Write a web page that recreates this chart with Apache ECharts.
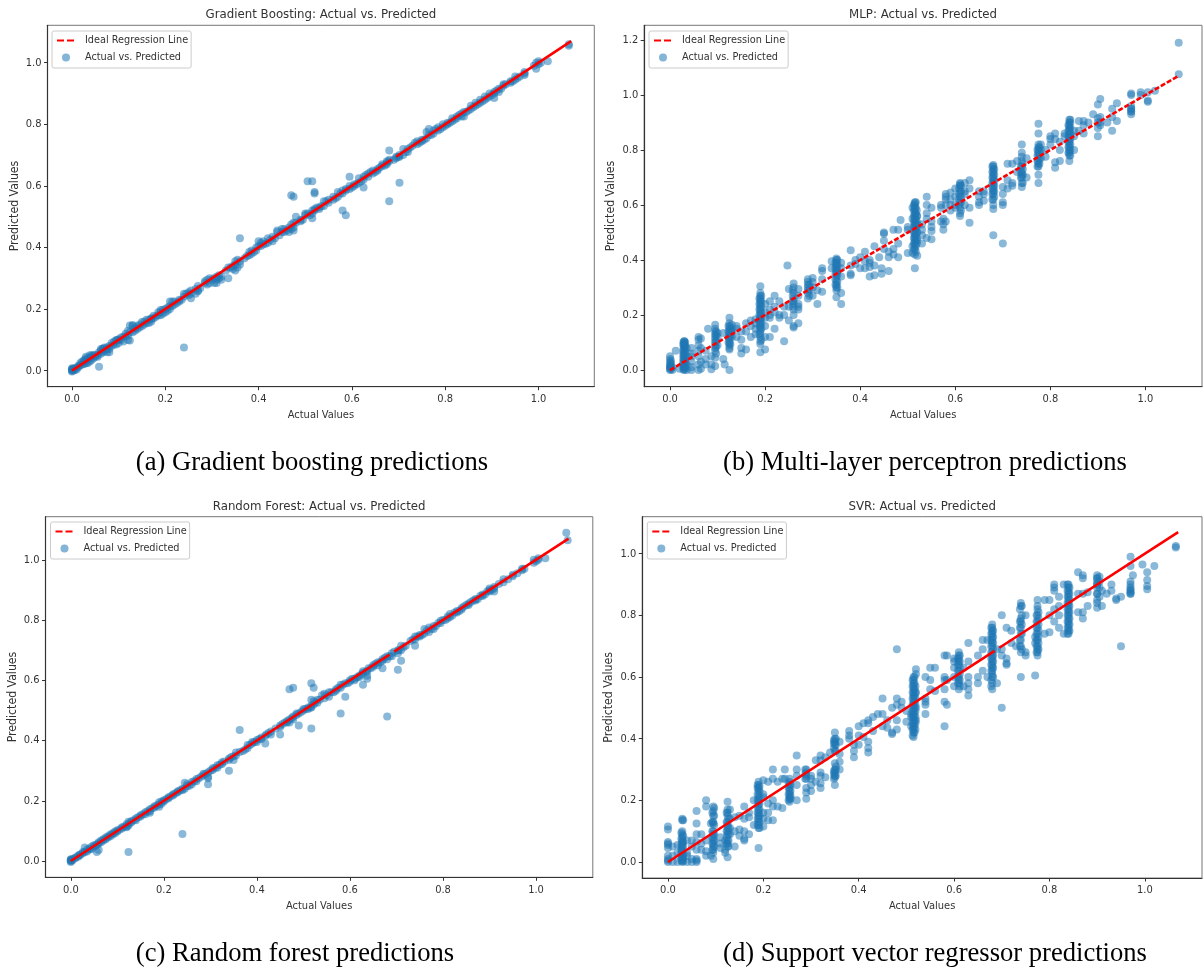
<!DOCTYPE html>
<html><head><meta charset="utf-8">
<style>html,body{margin:0;padding:0;background:#fff}#c{width:1203px;height:969px}</style>
<script src="https://cdn.jsdelivr.net/npm/echarts@6/dist/echarts.min.js"></script>
</head><body><div id="c"></div>
<script>
// each row: actual value, then the predicted values read at that actual value
const gbRows = [
[0,0,.003,.005,.008,-.003],[.003,.001,.006],[.006,.002,.008],[.018,.018,.025],[.022,.02,.03],[.026,.022,.03,.035],[.03,.024,.033,.045,.04],[.034,.025,.038],[.038,.03,.042,.05],[.042,.035,.045,.05],[.046,.05,.04],[.05,.052,.045],[.055,.045,.05],[.058,.013,.06],[.062,.055,.065,.07],[.066,.06,.07,.072],[.07,.065,.075],[.075,.06,.07,.075],[.08,.06,.07,.08],[.085,.08,.09],[.09,.085,.095],[.095,.085,.098,.1],[.1,.09,.1],[.11,.095,.11],[.115,.112,.12],[.12,.1,.115,.13],[.124,.098,.125,.147],[.13,.125,.145,.148],[.135,.13,.138],[.14,.135,.145],[.145,.14,.15],[.15,.145,.158],[.155,.16,.15],[.16,.165,.155],[.165,.155,.165],[.17,.16,.168,.17],[.175,.17,.178],[.185,.18,.19],[.19,.18,.19,.197],[.195,.185,.198],[.2,.19,.2],[.205,.195,.205],[.21,.2,.225,.21],[.215,.21,.225],[.22,.215,.225],[.23,.225,.23],[.24,.075,.25,.24],[.25,.245,.255],[.255,.235,.25,.26],[.265,.25,.265],[.27,.26,.275,.258],[.285,.285,.29],[.29,.28,.295],[.295,.285,.3],[.305,.285,.3],[.31,.285,.295,.305],[.315,.3,.31],[.32,.295,.305],[.335,.3,.335],[.345,.33,.34],[.35,.325,.345,.355],[.355,.335,.36],[.36,.345,.355,.43],[.38,.375,.385],[.385,.38,.39],[.395,.39,.4],[.4,.405,.42],[.405,.405,.415],[.41,.41,.42],[.42,.415,.43],[.43,.42,.435],[.44,.45,.455],[.45,.45,.46],[.455,.45,.46],[.465,.45,.465],[.47,.57,.46,.475],[.475,.565,.465,.48,.455],[.48,.5,.48],[.49,.485,.49],[.5,.51,.505],[.505,.615,.51],[.515,.615,.495,.51,.52],[.52,.58,.575,.52,.525],[.53,.525,.53],[.54,.535,.55],[.55,.545,.555],[.56,.555,.565],[.57,.565,.58],[.58,.52,.575,.585],[.587,.505,.585,.59],[.595,.59,.6,.63],[.605,.6,.605],[.615,.61,.625],[.625,.62,.63,.595],[.635,.63,.64],[.645,.64,.65],[.655,.655,.65],[.665,.665,.67],[.675,.67,.675,.68],[.68,.55,.715,.68,.685],[.695,.69,.695],[.702,.61,.695,.7],[.71,.7,.72],[.72,.71,.72],[.74,.735,.745],[.75,.745,.75],[.76,.755,.775],[.765,.765,.785],[.775,.77,.78],[.785,.78,.79],[.795,.79,.8],[.805,.8,.805],[.815,.81,.82],[.825,.82,.825],[.835,.825,.835],[.84,.825,.84],[.855,.85,.86],[.865,.86,.87],[.875,.87,.88],[.885,.88,.89],[.895,.89,.9],[.905,.885,.9,.905],[.915,.905,.915],[.925,.925,.93],[.94,.935,.94],[.95,.945,.955],[.97,.96,.965,.97],[.995,.98,1],[1,.995,1.005],[1.02,1.005],[1.065,1.055,1.06]
];
const gbExtra = [
[.01,.004,.01],[.014,.012,.016],[.1,.102],[.105,.1,.108],[.18,.175],[.225,.22],[.235,.23],[.245,.25],[.275,.268],[.3,.295],[.33,.325],[.34,.335],[.37,.365],[.375,.372],[.39,.385],[.415,.412],[.425,.425],[.435,.43],[.445,.44],[.46,.455],[.495,.49],[.51,.505],[.525,.53],[.535,.535],[.545,.55],[.565,.56],[.575,.575],[.6,.595],[.61,.605],[.62,.615],[.63,.635],[.64,.645],[.65,.645],[.66,.66],[.67,.665],[.69,.685],[.7,.695],[.715,.71],[.725,.725],[.73,.73],[.735,.74],[.745,.74],[.755,.75],[.77,.765],[.78,.785],[.79,.785],[.8,.795],[.81,.805],[.82,.815],[.83,.83],[.845,.84],[.85,.845],[.86,.855],[.87,.865],[.88,.875],[.89,.885],[.9,.895],[.91,.91],[.92,.915],[.93,.93],[.945,.94],[.955,.95],[.96,.955],[.99,.99],[1.005,1.0]
];
const mlpRows = [
[0,0,.005,.01,.015,.02,.03,.04,.05],[.005,0,.01],[.012,.07],[.02,.005],[.03,0,.005,.01,.015,.02,.03,.04,.05,.06,.07,.08,.085,.09,.095,.1,.105,.105],[.035,0,.02,.05,.08],[.045,0,.01,.03,.05,.06,.08],[.06,0,.02,.05,.07,.09,.11,.12],[.065,.08,.115,.03,.005],[.075,.04,.02,.07],[.08,.15],[.087,.003,.02,.05],[.095,.015,.045,.07,.08,.09,.1,.11,.12,.13,.14,.15,.165],[.1,.09,.12,.135],[.112,.135,.04],[.115,.02],[.125,0,.08,.075,.09,.1,.11,.12,.13,.14,.15,.16,.17,.19],[.13,.12,.14,.15,.165],[.14,.15,.12,.16],[.15,.06,.08,.11,.14],[.16,.075,.17,.14],[.17,.12,.18,.16],[.18,.13,.15,.17,.185],[.19,.065,.095,.105,.12,.135,.145,.155,.165,.175,.185,.19,.2,.21,.22,.23,.24,.25,.26,.27,.28,.305],[.2,.19,.21,.24,.16,.12,.075],[.21,.2,.22,.25,.12,.19],[.22,.21,.27,.15,.23],[.23,.2,.25,.19],[.24,.105,.2,.23],[.247,.38],[.25,.295,.18,.23],[.26,.155,.16,.2,.22,.24,.25,.26,.28,.3,.315],[.27,.17,.22,.24,.27,.295,.23],[.29,.26,.28,.29,.3,.31,.32,.33],[.3,.335,.3,.27,.32],[.31,.24,.29],[.32,.285,.33,.36,.37],[.34,.395,.37],[.35,.265,.29,.3,.31,.325,.34,.35,.36,.37,.38,.39,.4,.405],[.36,.24,.28,.34,.37,.39],[.38,.35,.345,.38,.435],[.39,.4,.385],[.4,.37,.41],[.41,.37,.43,.395],[.42,.34,.375,.39,.4],[.43,.345,.38,.45],[.44,.41],[.445,.35,.37],[.45,.44,.47,.495,.5],[.46,.36,.41,.43],[.47,.44,.42,.51],[.48,.41,.46,.51],[.485,.545],[.5,.51,.52,.425],[.51,.425,.59,.45,.55],[.515,.37,.42,.44,.455,.465,.475,.485,.495,.505,.515,.525,.535,.545,.555,.565,.575,.585,.595,.605,.61],[.52,.415,.47,.5,.53,.56],[.53,.49,.51,.53,.46],[.54,.48,.55,.6,.63,.57],[.55,.505,.54,.59,.52,.475],[.57,.54,.59,.6],[.575,.51,.53,.55],[.58,.6,.62,.63,.64,.54],[.59,.58,.6,.62,.645],[.6,.66,.6,.59,.63],[.61,.56,.57,.59,.61,.63,.65,.67,.675,.68],[.62,.6,.64,.68,.65],[.63,.535,.59,.66,.69],[.65,.6,.63,.65,.61],[.66,.65,.615,.64],[.68,.585,.6,.62,.64,.65,.66,.67,.68,.69,.7,.71,.72,.73,.74,.745,.49],[.7,.46,.64,.665,.61,.6],[.71,.66,.69,.75],[.72,.67,.75,.68],[.73,.72,.76],[.74,.665,.68,.7,.71,.72,.74,.76,.775,.82,.79],[.75,.77,.7],[.775,.68,.71,.74,.75,.76,.78,.79,.8,.81,.82,.86,.895],[.78,.77,.8,.82],[.79,.775,.8],[.8,.85,.84,.82],[.81,.735,.755,.86,.84],[.82,.76,.8,.83],[.83,.85,.86],[.84,.76,.78,.79,.8,.81,.82,.83,.84,.85,.86,.87,.88,.89,.9,.91],[.85,.8,.85,.87],[.86,.905,.87],[.87,.86,.89,.905],[.88,.9],[.89,.93],[.9,.85,.88,.9,.915,.965],[.905,.985,.9,.92,.89],[.92,.9],[.93,.87,.92,.95],[.94,.905,.97],[.97,.93,.94,.95,.96,1,1.005],[.99,1,1.01],[1.005,.975,.98,1.01],[1.02,1.015],[1.07,1.19,1.075]
];
const mlpExtra = [
[.002,.005,.015,.025,.035],[.028,.002,.012,.025,.035,.045,.055,.065,.075,.09,.1],[.032,.008,.018,.03,.042,.06,.072,.088,.1],[.097,.06,.085,.105,.125,.14],[.123,.1,.12,.14,.16],[.127,.095,.125,.145],[.188,.13,.16,.18,.2,.22,.24,.26],[.192,.11,.15,.17,.19,.21,.23,.25,.27],[.258,.23,.25,.27,.29],[.293,.27,.29,.31],[.348,.31,.33,.35,.37,.39],[.352,.3,.32,.345,.36,.38,.4],[.513,.44,.46,.48,.5,.52,.54,.56,.58,.6],[.517,.43,.45,.47,.49,.51,.53,.55,.57,.59,.61],[.519,.46,.48,.5,.52,.54,.56,.58],[.608,.6,.62,.64,.66],[.612,.58,.61,.63,.65,.67],[.678,.62,.64,.66,.68,.7,.72,.74],[.682,.63,.65,.67,.69,.71,.73],[.738,.7,.72,.74],[.742,.68,.71,.73,.75],[.773,.74,.76,.78,.8],[.777,.75,.77,.79,.81],[.838,.79,.81,.83,.85,.87,.89],[.842,.78,.8,.82,.84,.86,.88,.9,.91],[.97,.94,.95]
];
const rfRows = [
[0,0,.002,.004,-.003,.006],[.004,.003,.007],[.01,.01,.012],[.016,.014,.018],[.02,.02,.022],[.026,.026,.03],[.03,.03,.045],[.035,.032,.038],[.04,.038,.042],[.045,.04,.048],[.05,.048,.052],[.056,.052,.03],[.06,.058,.062,.037],[.065,.062,.068],[.07,.068,.072],[.075,.072,.078],[.08,.078,.082],[.085,.082,.088],[.09,.088,.092],[.095,.092,.098],[.1,.098,.102],[.11,.108,.112],[.12,.115,.122,.112],[.124,.03,.118,.13],[.13,.128,.132],[.14,.135,.142],[.15,.148,.152],[.16,.155,.162],[.17,.165,.172,.16],[.18,.178,.182],[.19,.18,.188,.195],[.195,.19,.198],[.2,.198,.202],[.21,.208,.212],[.22,.218,.222],[.23,.228,.232],[.24,.09,.235,.24],[.245,.24,.26],[.25,.255,.248],[.26,.255,.262],[.27,.265,.272],[.285,.285,.29],[.295,.255,.275,.295,.28],[.305,.302,.308],[.315,.31,.318],[.325,.322,.328],[.34,.3,.335,.34],[.35,.335,.348],[.355,.35,.36],[.363,.435,.362],[.38,.375,.385],[.39,.39,.395],[.4,.395,.402],[.41,.405,.41],[.418,.39,.415],[.43,.42,.43],[.45,.42,.445,.45],[.465,.46,.465],[.47,.57,.46,.47],[.478,.575,.47,.48],[.485,.485,.49],[.49,.45,.49],[.5,.5,.505],[.51,.505,.51],[.517,.59,.44,.51,.515,.535],[.522,.575,.52,.53],[.53,.525,.535],[.545,.54,.555],[.555,.545,.56],[.57,.565,.57],[.58,.49,.575,.585],[.59,.545,.59],[.6,.595,.6],[.61,.6,.605],[.62,.61,.615],[.628,.585,.625,.63],[.637,.605,.615,.63],[.65,.645,.65],[.66,.65,.66],[.67,.64,.665,.67],[.68,.48,.67,.68],[.69,.68,.69],[.703,.635,.69,.7],[.71,.665,.7,.715],[.74,.715,.735,.745],[.75,.745,.75],[.76,.755,.77],[.77,.76,.775],[.78,.77,.78],[.795,.79,.798],[.81,.805,.812],[.815,.81,.82],[.83,.825,.83],[.84,.835,.84],[.855,.85,.855],[.87,.865,.87],[.885,.88,.885],[.9,.895,.9,.905],[.91,.895,.905,.91],[.93,.925,.935],[.95,.945,.95],[.97,.965,.97],[.995,.99,1],[1.005,1,1.005],[1.02,1.005],[1.065,1.09],[1.068,1.065]
];
const rfExtra = [
[.055,.055],[.105,.105],[.115,.115],[.125,.125],[.135,.135],[.145,.145],[.155,.155],[.165,.165],[.175,.175],[.185,.185],[.205,.205],[.215,.215],[.225,.225],[.235,.235],[.255,.25],[.265,.265],[.275,.275],[.28,.28],[.29,.29],[.3,.3],[.31,.31],[.32,.32],[.33,.33],[.345,.345],[.37,.365],[.375,.37],[.385,.385],[.395,.395],[.405,.405],[.42,.42],[.425,.425],[.44,.44],[.455,.455],[.46,.46],[.475,.475],[.495,.495],[.505,.505],[.515,.51],[.525,.525],[.535,.535],[.54,.55],[.55,.55],[.56,.56],[.565,.56],[.575,.575],[.585,.585],[.595,.59],[.605,.605],[.615,.61],[.625,.62],[.635,.63],[.64,.64],[.645,.64],[.655,.655],[.665,.66],[.675,.675],[.685,.68],[.695,.695],[.705,.7],[.715,.71],[.72,.715],[.73,.73],[.735,.735],[.745,.745],[.755,.75],[.765,.765],[.775,.77],[.785,.78],[.79,.79],[.8,.8],[.805,.8],[.82,.815],[.825,.825],[.835,.83],[.845,.845],[.85,.85],[.86,.86],[.865,.865],[.875,.87],[.88,.88],[.89,.885],[.895,.895],[.905,.9],[.92,.92],[.94,.935],[.96,.955],[.975,.97],[1,.995]
];
const svrRows = [
[0,0,.005,.01,.02,.045,.055,.06,.065,.105,.115],[.01,0,.02,.05],[.02,0,.055,.03],[.03,0,.005,.01,.02,.03,.04,.05,.06,.065,.07,.08,.09,.1,.135,.14],[.04,0,.02,.07,.03],[.05,0,.01,.05,.07],[.06,0,.005,.01,.04,.065,.09,.125,.165],[.07,.04,.09,.06],[.08,.02,.035,.07,.18,.2],[.09,.02,.125],[.095,.01,.03,.04,.05,.06,.07,.08,.09,.1,.125,.13,.15,.165,.18],[.11,.045,.06,.08],[.12,.04,.03,.07],[.125,.015,.05,.06,.07,.09,.1,.11,.12,.13,.15,.16,.17,.195],[.13,.09,.11,.14,.17],[.14,.05,.145,.1],[.15,.105,.085,.15],[.16,.1,.075,.07,.14,.18],[.17,.09,.145,.16],[.18,.12,.2],[.19,.045,.11,.12,.13,.14,.15,.16,.17,.185,.195,.205,.215,.23,.24,.25,.26],[.2,.115,.14,.16,.21,.265,.22],[.21,.135,.19,.26,.16],[.22,.135,.2,.3,.27,.18],[.23,.18,.26],[.24,.175,.27],[.245,.3,.27],[.255,.195,.205,.21,.22,.23,.24,.25,.26,.27],[.27,.2,.25,.28,.3,.345],[.29,.205,.225,.24,.27,.28,.29,.3],[.3,.23,.25,.28,.27],[.31,.33,.26],[.32,.24,.255,.28,.29,.345,.33],[.33,.275,.34],[.34,.355],[.35,.25,.275,.28,.29,.3,.32,.36,.38,.39,.4,.42],[.36,.325,.35,.39,.3],[.38,.4,.41,.425],[.39,.34,.36,.38],[.4,.38,.44,.41],[.41,.45,.405],[.42,.355,.37,.39,.45,.46],[.43,.425,.47],[.44,.48],[.45,.44,.53,.48],[.46,.435,.46],[.47,.415,.42,.5],[.48,.46,.43,.53,.69,.51],[.49,.5,.52],[.5,.455,.49],[.51,.47,.48,.44],[.515,.405,.42,.43,.44,.45,.46,.47,.48,.49,.5,.51,.52,.53,.54,.55,.56,.57,.58,.59,.6],[.52,.625,.61,.5,.55,.46],[.54,.48,.52,.53,.6,.51],[.55,.56,.63,.59],[.56,.555,.63],[.58,.44,.56,.6,.52,.59,.67],[.585,.51,.67,.59],[.6,.57,.6,.63,.65,.66],[.61,.56,.58,.59,.6,.62,.64,.65,.66,.67,.68],[.62,.57,.63],[.63,.54,.56,.6,.65,.71,.58],[.65,.6,.58,.67],[.66,.69,.62,.72],[.67,.72,.6],[.68,.56,.58,.6,.61,.62,.63,.64,.65,.66,.67,.68,.7,.71,.72,.73,.74,.75,.76,.77],[.69,.58,.69],[.7,.5,.67,.69,.8],[.71,.645,.76,.64,.66],[.72,.75,.71],[.73,.7],[.74,.6,.68,.7,.72,.74,.76,.78,.79,.83,.84],[.75,.67,.8,.68],[.77,.605,.73,.71],[.775,.67,.68,.69,.7,.72,.74,.76,.78,.8,.82,.83,.85],[.79,.74,.85],[.8,.745,.8,.85],[.81,.78,.82,.88,.89,.9],[.82,.76,.8,.83,.86],[.83,.74,.9],[.84,.74,.75,.76,.77,.78,.79,.8,.81,.82,.83,.84,.85,.86,.87,.88,.89,.9],[.86,.81,.87,.94],[.87,.79,.81,.87,.92,.93],[.88,.83,.875],[.9,.825,.85,.87,.89,.9,.91,.92,.93],[.91,.83,.88],[.92,.87],[.93,.9,.88],[.94,.85,.855],[.95,.7,.86],[.97,.87,.88,.89,.9,.91,.96,.99],[.975,.93],[.995,.965],[1.005,.885,.895,.915,.94],[1.02,.96],[1.065,1.02,1.025]
];
const svrExtra = [
[.028,.005,.015,.025,.035,.045,.055,.075,.095],[.032,.002,.012,.022,.05,.065,.085,.135],[.093,.04,.06,.08,.1,.13,.16],[.097,.05,.07,.09,.12,.15,.175],[.123,.06,.08,.1,.13,.16],[.127,.05,.07,.09,.11,.14],[.188,.12,.14,.16,.18,.2,.22,.24,.25],[.192,.11,.13,.15,.17,.19,.21,.23,.245],[.253,.2,.22,.24,.255],[.257,.205,.215,.23,.25],[.288,.27,.285,.3],[.348,.27,.285,.295,.37,.385,.395],[.352,.28,.3,.31,.36,.38,.4],[.513,.41,.43,.45,.47,.49,.51,.53,.55,.57,.59],[.517,.42,.44,.46,.48,.5,.52,.54,.56,.58,.6],[.519,.43,.45,.47,.49,.51,.53,.55,.57],[.608,.58,.6,.62,.64,.66],[.612,.57,.59,.61,.63,.65,.67],[.678,.57,.59,.62,.64,.66,.68,.7,.72,.74,.76],[.682,.6,.63,.65,.67,.69,.71,.73,.75],[.738,.7,.72,.76,.78,.82],[.742,.69,.74,.77,.8,.83],[.773,.68,.7,.72,.74,.76,.78,.8],[.777,.69,.71,.73,.75,.77,.79,.81],[.838,.74,.76,.78,.8,.82,.84,.86,.88,.9],[.842,.75,.77,.79,.81,.83,.85,.87,.89],[.9,.84,.87,.9,.92],[.905,.86,.89,.91,.925],[.97,.87,.875,.885]
];
const xTickValues = [0,.2,.4,.6,.8,1];
const yTickValues = [0,.2,.4,.6,.8,1];
const yTickValuesMlp = [0,.2,.4,.6,.8,1,1.2];
const idealBroken = [[0,0],[.685,.685],[null,null],[.695,.695],[1.07,1.07]];
const idealFull = [[0,0],[1.07,1.07]];
const panelTitles = ['Gradient Boosting: Actual vs. Predicted','MLP: Actual vs. Predicted','Random Forest: Actual vs. Predicted','SVR: Actual vs. Predicted'];
const captions = ['(a) Gradient boosting predictions','(b) Multi-layer perceptron predictions','(c) Random forest predictions','(d) Support vector regressor predictions'];
const lineName = 'Ideal Regression Line', pointName = 'Actual vs. Predicted';

const FONT = '"DejaVu Sans Condensed","DejaVu Sans",sans-serif';
const INK = '#333';
const panels = [
 {rows:gbRows.concat(gbExtra), g:[47.5,25.3,546.8,361.4], x:[-.0525,1.1196], y:[-.052,1.1214], yt:yTickValues, line:idealBroken, dash:'solid', leg:[52,31], cap:[312,465]},
 {rows:mlpRows.concat(mlpExtra),g:[644.2,25.3,557.8,361.4], x:[-.0543,1.119], y:[-.0607,1.2534], yt:yTickValuesMlp, line:idealFull, dash:[5,2], leg:[649,31], cap:[925,465]},
 {rows:rfRows.concat(rfExtra), g:[45.5,516.7,547.3,360.6], x:[-.0544,1.122], y:[-.054,1.143], yt:yTickValues, line:idealBroken, dash:'solid', leg:[50.5,522], cap:[295,956]},
 {rows:svrRows.concat(svrExtra),g:[642.3,516.7,559.7,361.3], x:[-.0538,1.1199], y:[-.052,1.12], yt:yTickValues, line:idealBroken, dash:'solid', leg:[647.3,522], cap:[935,956]}
];
const fmt = v => v.toFixed(1);
const opt = {animation:false, backgroundColor:'#fff', title:[], legend:[], grid:[], xAxis:[], yAxis:[], series:[]};
panels.forEach((p,i)=>{
  const [l,t,w,h] = p.g;
  opt.grid.push({left:l,top:t,width:w,height:h,show:true,borderColor:'#777',borderWidth:1,backgroundColor:'#fff'});
  const axis = (name,range,ticks,size,gap,rot,margin)=>({
    type:'value',gridIndex:i,min:range[0],max:range[1],name:name,nameLocation:'middle',nameGap:gap,nameRotate:rot,
    nameTextStyle:{fontFamily:FONT,fontSize:size,color:INK},
    splitLine:{show:false},
    axisLine:{show:true,onZero:false,lineStyle:{color:'#333',width:1.2}},
    axisTick:{show:true,length:3.5,customValues:ticks,lineStyle:{color:'#333'}},
    axisLabel:{customValues:ticks,formatter:fmt,fontFamily:FONT,fontSize:11,color:INK,margin:margin}
  });
  opt.xAxis.push(axis('Actual Values',p.x,xTickValues,11,23,0,7));
  opt.yAxis.push(axis('Predicted Values',p.y,p.yt,12.2,27,90,6));
  opt.title.push({text:panelTitles[i],left:l+w/2,top:t-17,padding:0,textAlign:'center',textStyle:{fontFamily:FONT,fontSize:13.1,fontWeight:'normal',color:INK}});
  opt.title.push({text:captions[i],left:p.cap[0],top:p.cap[1]-15,padding:0,textAlign:'center',textStyle:{fontFamily:'"Liberation Serif",serif',fontSize:26.6,fontWeight:'normal',color:'#000'}});
  opt.legend.push({left:p.leg[0],top:p.leg[1],orient:'vertical',selectedMode:false,backgroundColor:'#fff',borderColor:'#ccc',borderWidth:1,borderRadius:2,
    padding:[4,3,5,4],itemGap:6,itemWidth:18,itemHeight:8,
    textStyle:{fontFamily:FONT,fontSize:10.8,color:INK,padding:[0,0,0,5]},
    data:[{name:lineName,itemStyle:{opacity:0},lineStyle:{type:[7,3],color:'#f00',width:2}},{name:pointName,icon:'circle',itemStyle:{color:'#1f77b4',opacity:.55}}]});
  const pts = [];
  p.rows.forEach(r=>r.slice(1).forEach(y=>pts.push([r[0],y])));
  opt.series.push({type:'scatter',name:pointName,xAxisIndex:i,yAxisIndex:i,data:pts,symbolSize:8,z:2,itemStyle:{color:'#1f77b4',opacity:.52}});
  opt.series.push({type:'line',name:lineName,xAxisIndex:i,yAxisIndex:i,data:p.line,symbol:'none',z:3,connectNulls:false,lineStyle:{color:'#f00',width:2.6,type:p.dash}});
});
echarts.init(document.getElementById('c')).setOption(opt);
</script></body></html>
